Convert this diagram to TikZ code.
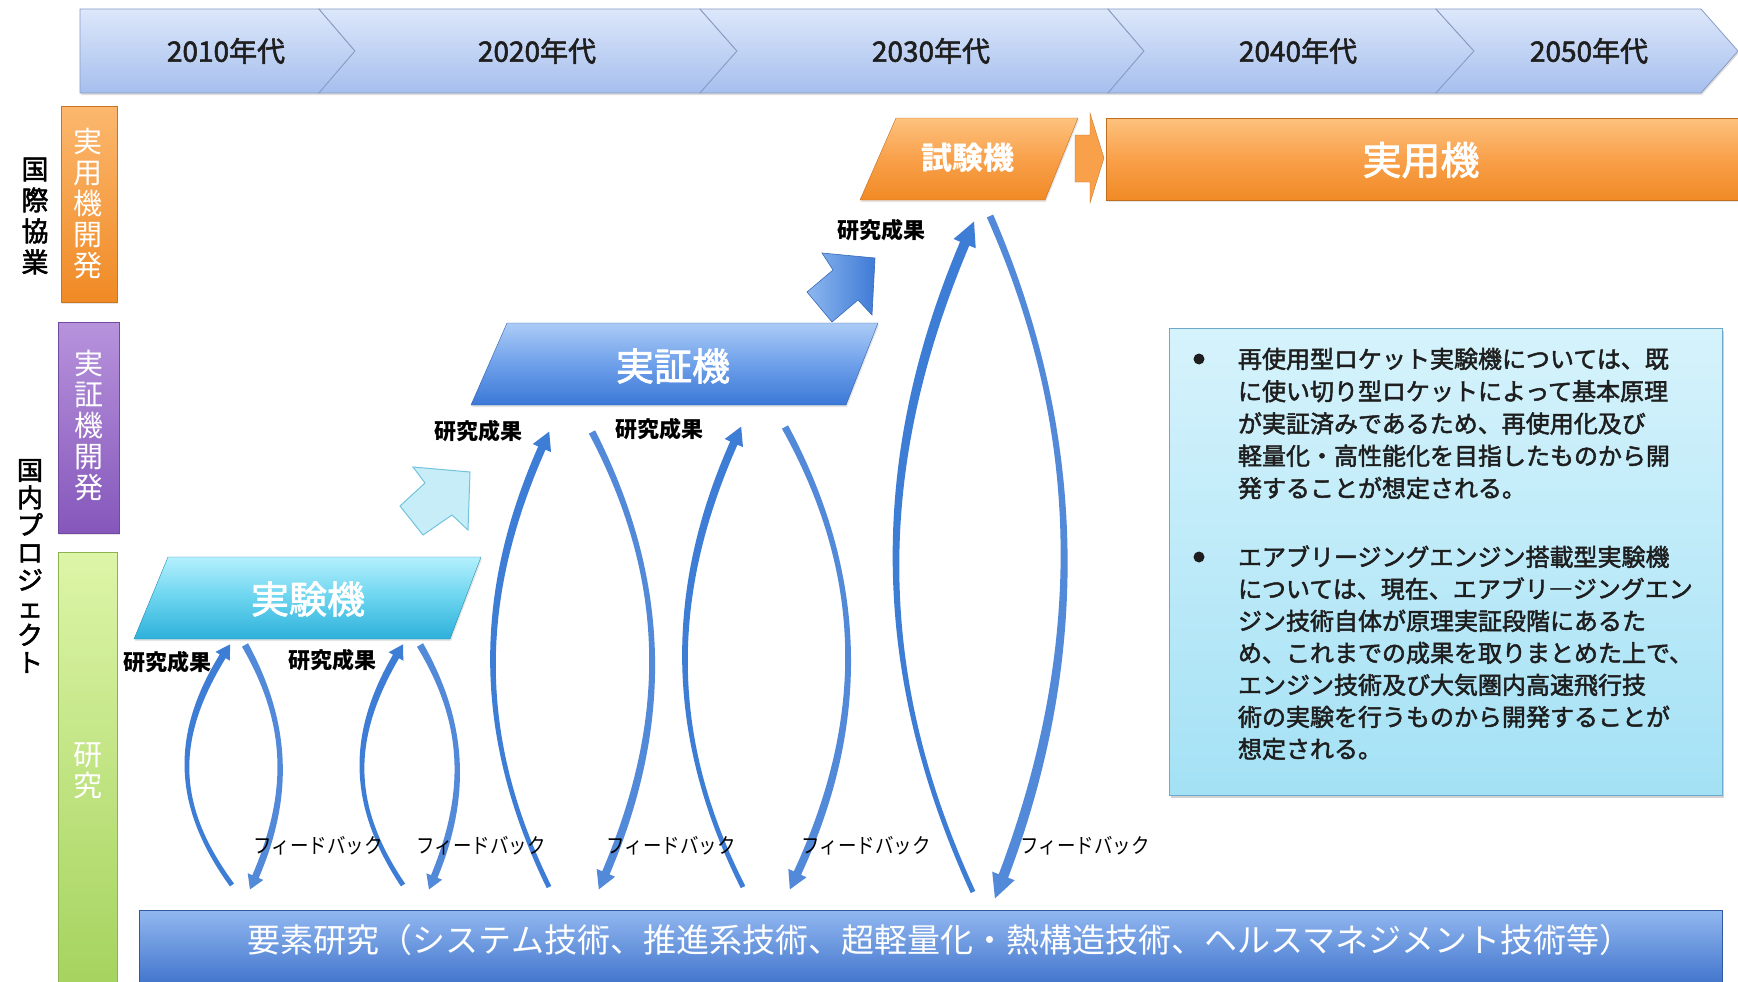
\documentclass[tikz,border=0pt]{standalone}
\usepackage{fontspec}
\setmainfont{Noto Sans CJK JP}
\newfontfamily\jpcond{Noto Sans CJK JP}[FakeStretch=0.88]
\newfontfamily\jpmed{Noto Sans CJK JP}[FakeBold=2]
\usetikzlibrary{shadows}
\definecolor{chevtop}{HTML}{DCE7FA}
\definecolor{chevbot}{HTML}{A6BFEE}
\definecolor{chevline}{HTML}{8A9BC4}
\definecolor{orgtop}{HTML}{FDC27E}
\definecolor{orgmid}{HTML}{F9A04A}
\definecolor{orgbot}{HTML}{F08A25}
\definecolor{purtop}{HTML}{B793DC}
\definecolor{purbot}{HTML}{8557BB}
\definecolor{grntop}{HTML}{DDF5A8}
\definecolor{grnbot}{HTML}{A5D35E}
\definecolor{cyantop}{HTML}{B4F0FC}
\definecolor{cyanmid}{HTML}{6AD4EF}
\definecolor{cyanbot}{HTML}{2DB0DA}
\definecolor{bluetop}{HTML}{ABCBF6}
\definecolor{bluemid}{HTML}{6EA0EA}
\definecolor{bluebot}{HTML}{3B78D6}
\definecolor{arcup}{HTML}{3E7DD5}
\definecolor{arcdn}{HTML}{5289D8}
\definecolor{lightfill}{HTML}{C6EDF8}
\definecolor{lightline}{HTML}{74C3DD}
\definecolor{barrowl}{HTML}{8DB7EF}
\definecolor{barrowr}{HTML}{3F7BD6}
\definecolor{boxtop}{HTML}{D6F3FC}
\definecolor{boxbot}{HTML}{A4E1F5}
\definecolor{boxline}{HTML}{6CA9CC}
\definecolor{bartop}{HTML}{92B8F0}
\definecolor{barbot}{HTML}{3B6FC9}
\definecolor{txtdark}{HTML}{1E1E1E}

\def\laTw{2.5}
% #1,#2 tail; #3,#4 tip; #5 extreme x; #6 handle; #7 head length; #8 head width; #9 shaft width at head
\newcommand\looparrow[9]{%
 \pgfmathsetmacro\laD{ifthenelse(#4<#2,-1,1)}%
 \pgfmathsetmacro\laCx{(#5-(#1+#3)/8)/0.75}%
 \pgfmathsetmacro\laUx{(#3-\laCx)/100}%
 \pgfmathsetmacro\laUy{\laD*#6/100}%
 \pgfmathsetmacro\laN{sqrt(\laUx*\laUx+\laUy*\laUy)}%
 \pgfmathsetmacro\laUx{\laUx/\laN}%
 \pgfmathsetmacro\laUy{\laUy/\laN}%
 \pgfmathsetmacro\laBx{#3-#7*\laUx}%
 \pgfmathsetmacro\laBy{#4-#7*\laUy}%
 \pgfmathsetmacro\laCx{(#5-(#1+\laBx)/8)/0.75}%
 \pgfmathsetmacro\laUx{(\laBx-\laCx)/100}%
 \pgfmathsetmacro\laUy{\laD*#6/100}%
 \pgfmathsetmacro\laN{sqrt(\laUx*\laUx+\laUy*\laUy)}%
 \pgfmathsetmacro\laUx{\laUx/\laN}%
 \pgfmathsetmacro\laUy{\laUy/\laN}%
 \pgfmathsetmacro\laNx{-\laUy}%
 \pgfmathsetmacro\laNy{\laUx}%
 \pgfmathsetmacro\laTx{(\laCx-#1)/100}%
 \pgfmathsetmacro\laTy{\laD*#6/100}%
 \pgfmathsetmacro\laM{sqrt(\laTx*\laTx+\laTy*\laTy)}%
 \pgfmathsetmacro\laMx{-\laTy/\laM}%
 \pgfmathsetmacro\laMy{\laTx/\laM}%
 \pgfmathsetmacro\laCay{#2+\laD*#6}%
 \pgfmathsetmacro\laCby{\laBy-\laD*#6}%
 \pgfmathsetmacro\laHs{#9/2}%
 \pgfmathsetmacro\laHw{#8/2}%
 \fill ({#1+\laTw*\laMx},{#2+\laTw*\laMy}) .. controls ({\laCx+2*\laMx},{\laCay+2*\laMy}) and ({\laCx+\laHs*\laNx},{\laCby+\laHs*\laNy}) .. ({\laBx+\laHs*\laNx},{\laBy+\laHs*\laNy}) -- ({\laBx+\laHw*\laNx},{\laBy+\laHw*\laNy}) -- ({\laBx+#7*\laUx},{\laBy+#7*\laUy}) -- ({\laBx-\laHw*\laNx},{\laBy-\laHw*\laNy}) -- ({\laBx-\laHs*\laNx},{\laBy-\laHs*\laNy}) .. controls ({\laCx-\laHs*\laNx},{\laCby-\laHs*\laNy}) and ({\laCx-2*\laMx},{\laCay-2*\laMy}) .. ({#1-\laTw*\laMx},{#2-\laTw*\laMy}) -- cycle;%
}

\tikzset{
  every node/.style={inner sep=0pt, outer sep=0pt},
  chev/.style={draw=chevline, line width=0.8pt, top color=chevtop, bottom color=chevbot,
    drop shadow={opacity=0.25, shadow xshift=1pt, shadow yshift=-2pt}},
  yearlbl/.style={font=\jpmed\fontsize{28}{30}\selectfont, text=txtdark},
  sidelbl/.style={font=\fontsize{29}{31}\selectfont, text=white, align=center},
  grouplbl/.style={font=\jpmed\fontsize{27}{31}\selectfont, text=black, align=center},
  orgshape/.style={draw=orgbot!80!black, line width=0.4pt, top color=orgtop, bottom color=orgbot, middle color=orgmid,
    drop shadow={opacity=0.2, shadow xshift=1pt, shadow yshift=-2pt}},
  machlbl/.style={font=\jpmed\fontsize{38}{40}\selectfont, text=white},
  reslbl/.style={font=\bfseries\fontsize{22}{24}\selectfont, text=black},
  fblbl/.style={font=\jpcond\fontsize{21}{24}\selectfont, text=black},
  boxtxt/.style={font=\jpmed\fontsize{24}{28}\selectfont, text=txtdark, anchor=base west},
}

\begin{document}
\begin{tikzpicture}[x=1pt, y=-1pt]
\useasboundingbox (0,0) rectangle (1738,982);
\fill[white] (0,0) rectangle (1738,982);

% ---- timeline chevrons ----
\path[chev] (80,9) -- (319,9) -- (355,51) -- (319,93) -- (80,93) -- cycle;
\path[chev] (319,9) -- (700,9) -- (737,51) -- (700,93) -- (319,93) -- (355,51) -- cycle;
\path[chev] (700,9) -- (1108,9) -- (1144,51) -- (1108,93) -- (700,93) -- (737,51) -- cycle;
\path[chev] (1108,9) -- (1436,9) -- (1474,51) -- (1436,93) -- (1108,93) -- (1144,51) -- cycle;
\path[chev] (1436,9) -- (1701,9) -- (1738,51) -- (1701,93) -- (1436,93) -- (1474,51) -- cycle;
\node[yearlbl] (y2010) at (226,51) {2010年代};
\node[yearlbl] (y2020) at (537,51) {2020年代};
\node[yearlbl] (y2030) at (931,51) {2030年代};
\node[yearlbl] (y2040) at (1298,51) {2040年代};
\node[yearlbl] (y2050) at (1589,51) {2050年代};

% ---- left side bars ----
\path[top color=orgtop!70!orgmid, bottom color=orgbot, draw=orgbot!85!black, line width=0.4pt,
  drop shadow={opacity=0.2, shadow xshift=1pt, shadow yshift=-2pt}] (61,106) rectangle (117,302);
\path[top color=purtop, bottom color=purbot, draw=purbot!85!black, line width=0.4pt,
  drop shadow={opacity=0.2, shadow xshift=1pt, shadow yshift=-2pt}] (58,322) rectangle (119,533);
\path[top color=grntop, bottom color=grnbot, draw=grnbot!85!black, line width=0.4pt] (58,552) rectangle (117,990);
\node[sidelbl] (sb1) at (88,204) {実\\用\\機\\開\\発};
\node[sidelbl] (sb2) at (89,426) {実\\証\\機\\開\\発};
\node[sidelbl] (sb3) at (88,771) {研\\究};
\node[grouplbl] (g1) at (35,216) {国\\際\\協\\業};
\node[grouplbl, font=\jpmed\fontsize{26}{27.5}\selectfont] (g2) at (30,566) {国\\内\\プ\\ロ\\ジ\\ェ\\ク\\ト};

% ---- bottom bar ----
\path[top color=bartop, bottom color=barbot, draw=barbot!80!black, line width=0.5pt] (139,910) rectangle (1722,990);
\node[font=\fontsize{33}{35}\selectfont, text=white] (base) at (940,940) {要素研究（システム技術、推進系技術、超軽量化・熱構造技術、ヘルスマネジメント技術等）};

% ---- parallelograms ----
\path[draw=cyanbot!80!black, line width=0.4pt, top color=cyantop, bottom color=cyanbot, middle color=cyanmid,
  drop shadow={opacity=0.2, shadow xshift=1pt, shadow yshift=-2pt}] (168,557) -- (481,557) -- (450,639) -- (134,639) -- cycle;
\node[machlbl] (jikken) at (308,599) {実験機};
\path[draw=bluebot!80!black, line width=0.4pt, top color=bluetop, bottom color=bluebot, middle color=bluemid,
  drop shadow={opacity=0.2, shadow xshift=1pt, shadow yshift=-2pt}] (507,323) -- (878,323) -- (846,405) -- (471,405) -- cycle;
\node[machlbl] (jissho) at (673,366) {実証機};
\path[orgshape] (896,118) -- (1078,118) -- (1045,200) -- (860,200) -- cycle;
\node[machlbl, font=\bfseries\fontsize{31}{33}\selectfont] (shiken) at (968,158) {試験機};
\path[orgshape] (1106,118) rectangle (1738,200);
\node[machlbl, font=\jpmed\fontsize{39}{41}\selectfont] (jitsuyo) at (1421,160) {実用機};
\path[fill=orgmid, draw=orgbot!80!black, line width=0.3pt] (1075,135) -- (1090,135) -- (1090,113) -- (1104,158) -- (1090,203) -- (1090,182) -- (1075,182) -- cycle;

% ---- block arrows ----
\path[fill=lightfill, draw=lightline, line width=1pt] (470,472) -- (413,467) -- (425,483) -- (400,506) -- (423,535) -- (452,515) -- (468,530) -- cycle;
\path[left color=barrowl, right color=barrowr, draw=barrowr!85!black, line width=0.6pt] (875,258) -- (822,253) -- (833,270) -- (807,292) -- (832,322) -- (858,300) -- (872,315) -- cycle;

% ---- loop arrows ----
\begin{scope}[fill=arcup]
\looparrow{232}{885}{231}{645}{187}{80}{14}{17}{7}
\looparrow{403}{885}{404}{645}{362}{80}{14}{17}{7}
\looparrow{549}{887}{550}{432}{493}{150}{18}{20}{8}
\looparrow{743}{887}{742}{427}{685}{150}{18}{20}{8}
\looparrow{973}{892}{975}{222}{896}{220}{24}{24}{10}
\end{scope}
\def\laTw{3.5}
\begin{scope}[fill=arcdn]
\looparrow{245}{645}{249}{889}{280}{80}{14}{17}{7}
\looparrow{420}{645}{428}{889}{457}{80}{14}{17}{7}
\looparrow{592}{432}{598}{889}{652}{150}{18}{20}{8}
\looparrow{785}{427}{789}{889}{848}{150}{18}{20}{8}
\looparrow{990}{216}{994}{898}{1064}{220}{24}{24}{10}
\end{scope}

% ---- labels ----
\node[reslbl] (r1) at (167,662) {研究成果};
\node[reslbl] (r2) at (332,660) {研究成果};
\node[reslbl] (r3) at (478,431) {研究成果};
\node[reslbl] (r4) at (659,429) {研究成果};
\node[reslbl] (r5) at (881,230) {研究成果};
\node[fblbl] (f1) at (318,846) {フィードバック};
\node[fblbl] (f2) at (481,846) {フィードバック};
\node[fblbl] (f3) at (671,846) {フィードバック};
\node[fblbl] (f4) at (866,846) {フィードバック};
\node[fblbl] (f5) at (1085,846) {フィードバック};

% ---- text box ----
\path[top color=boxtop, bottom color=boxbot, draw=boxline, line width=1pt,
  drop shadow={opacity=0.35, shadow xshift=2pt, shadow yshift=-3pt}] (1169,328) rectangle (1722,795);
\fill[txtdark] (1199,359) circle (5.5);
\fill[txtdark] (1199,557) circle (5.5);
\foreach \t [count=\i] in {再使用型ロケット実験機については、既, に使い切り型ロケットによって基本原理, が実証済みであるため、再使用化及び, 軽量化・高性能化を目指したものから開, 発することが想定される。}
  \node[boxtxt] (pa\i) at (1238,{368+32.3*(\i-1)}) {\t};
\foreach \t [count=\i] in {エアブリージングエンジン搭載型実験機, については、現在、エアブリ―ジングエン, ジン技術自体が原理実証段階にあるた, め、これまでの成果を取りまとめた上で、, エンジン技術及び大気圏内高速飛行技, 術の実験を行うものから開発することが, 想定される。}
  \node[boxtxt] (pb\i) at (1238,{566+32*(\i-1)}) {\t};
\end{tikzpicture}
\end{document}
